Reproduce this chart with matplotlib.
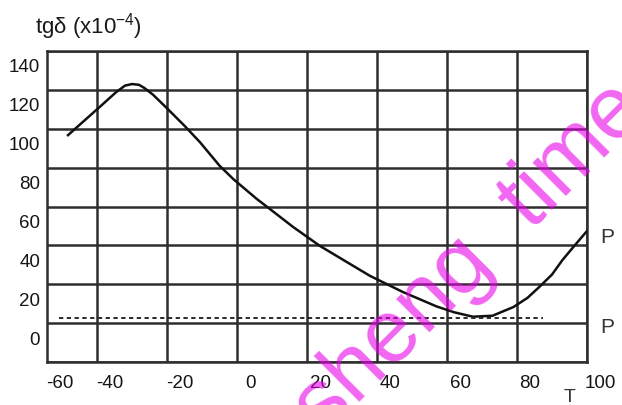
import matplotlib
matplotlib.use("Agg")
import matplotlib.pyplot as plt
from matplotlib.transforms import ScaledTranslation

plt.rcParams["font.family"] = ["Liberation Sans", "DejaVu Sans"]
plt.rcParams["mathtext.fontset"] = "custom"
plt.rcParams["mathtext.rm"] = "Liberation Sans"
plt.rcParams["mathtext.it"] = "Liberation Sans:italic"

# ---- data (grid-line coordinates) ----
temp = [-48.3, -44, -39, -34.5, -32, -30, -28, -26.5, -24, -20, -15, -10.6, -5, -1,
        5.7, 9.4, 16, 23.7, 30, 38, 47.4, 57, 62, 67.4, 73, 79, 83, 86.6, 90, 93,
        96.5, 100]
tgd = [96.7, 103.6, 111.6, 118.9, 122.2, 123, 122.6, 121, 117.5, 110.5, 101.5, 93.1, 81, 74,
       63.8, 58.7, 49.5, 39.7, 32.9, 24.3, 16, 8.6, 5.6, 3.3, 3.8, 8.3, 13, 19, 25, 32.5,
       40, 47.4]
ref_temp = [-51, 87.5]
ref_tgd = [2.5, 2.5]

x_grid = [-40, -20, 0, 20, 40, 60, 80, 100]
x_labels = ["-60", "-40", "-20", "0", "20", "40", "60", "80", "100"]
y_grid = [-20, 0, 20, 40, 60, 80, 100, 120, 140]
y_ticks = [0, 20, 40, 60, 80, 100, 120, 140]
y_labels = ["0", "20", "40", "60", "80", "100", "120", "140"]
xmin, xmax = -54.3, 100
ymin, ymax = -20, 140

W, H = 622, 406
fig = plt.figure(figsize=(W / 100, H / 100), dpi=100)
ax = fig.add_axes([47 / W, 43 / H, 540 / W, 311 / H])
ax.set_xlim(xmin, xmax)
ax.set_ylim(ymin, ymax)

gcol = "#2e2e2e"
for gx in x_grid:
    ax.axvline(gx, color=gcol, lw=1.8, zorder=1)
for gy in y_grid:
    ax.axhline(gy, color=gcol, lw=1.8, zorder=1)
for s in ax.spines.values():
    s.set_color(gcol)
    s.set_linewidth(1.8)

ax.plot(temp, tgd, color="#111111", lw=1.8, zorder=3)
ax.plot(ref_temp, ref_tgd, color="#2a2a2a", lw=1.4, linestyle=(0, (2.2, 1.8)), zorder=3)

ax.set_xticks([xmin] + x_grid)
ax.set_xticklabels(x_labels)
ax.set_yticks(y_ticks)
ax.set_yticklabels(y_labels)
ax.tick_params(axis="both", length=0, labelsize=13.5, colors="#151515")
ax.tick_params(axis="x", pad=9)
ax.tick_params(axis="y", pad=5)

xoff = ScaledTranslation(13 / 100, 0, fig.dpi_scale_trans)
yoff = ScaledTranslation(0, -14 / 100, fig.dpi_scale_trans)
for lab in ax.get_xticklabels():
    lab.set_transform(lab.get_transform() + xoff)
for lab in ax.get_yticklabels():
    lab.set_transform(lab.get_transform() + yoff)

fig.text(88 / W, 1 - 27 / H, "tgδ (x$10^{-4}$)", ha="center", va="center",
         fontsize=16, color="#1a1a1a")
fig.text(600 / W, 1 - 238 / H, "P", ha="left", va="center", fontsize=15, color="#333333")
fig.text(600 / W, 1 - 328 / H, "P", ha="left", va="center", fontsize=15, color="#333333")
fig.text(570 / W, 1 - 389 / H, "T", ha="center", va="top", fontsize=14, color="#333333")

fig.text(325 / W, 1 - 438 / H, "sheng  time", rotation=45, rotation_mode="anchor",
         ha="left", va="baseline", fontsize=64, color="#e800e8", alpha=0.6, zorder=10)

fig.savefig("out.png", dpi=100)
